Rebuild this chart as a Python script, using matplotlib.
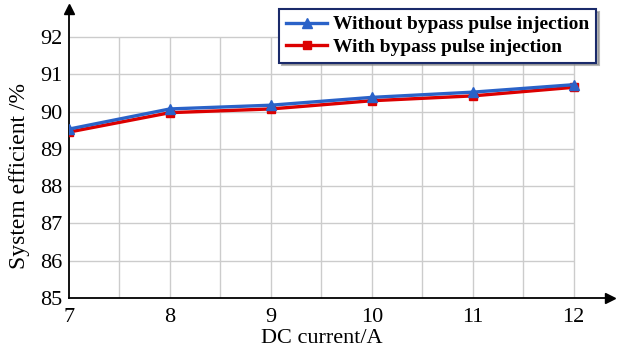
import matplotlib
matplotlib.use("Agg")
import matplotlib.pyplot as plt

plt.rcParams['font.family'] = ['Liberation Serif', 'DejaVu Serif']

current = [7, 8, 9, 10, 11, 12]
eff_without = [89.53, 90.07, 90.17, 90.38, 90.52, 90.72]
eff_with = [89.45, 89.97, 90.07, 90.29, 90.42, 90.65]
yticks = [85, 86, 87, 88, 89, 90, 91, 92]
xticks = [7, 8, 9, 10, 11, 12]

fig = plt.figure(figsize=(6.17, 3.49), dpi=100)
ax = fig.add_axes([69/617, 51/349, (610-69)/617, (298-9)/349])
ax.set_xlim(7, 12.36)
ax.set_ylim(85, 92.75)

gc = '#cccccc'
for x in [7.5, 8, 8.5, 9, 9.5, 10, 10.5, 11, 11.5, 12]:
    ax.vlines(x, 85, 92, color=gc, lw=1, zorder=1)
for y in yticks[1:]:
    ax.hlines(y, 7, 12, color=gc, lw=1, zorder=1)

for s in ['top', 'right']:
    ax.spines[s].set_visible(False)
for s in ['left', 'bottom']:
    ax.spines[s].set_linewidth(1.3)
ax.plot(1, 0, '>k', transform=ax.transAxes, clip_on=False, ms=7)
ax.plot(0, 1, '^k', transform=ax.transAxes, clip_on=False, ms=7)

ax.plot(current, eff_with, color='#dc0000', lw=2.4, marker='s', ms=6,
        label='With bypass pulse injection', zorder=3)
ax.plot(current, eff_without, color='#2a62c8', lw=2.4, marker='^', ms=7.5,
        label='Without bypass pulse injection', zorder=4)

ax.set_xticks(xticks)
ax.set_yticks(yticks)
ax.tick_params(axis='both', length=0, labelsize=16)
ax.tick_params(axis='x', pad=7.3)
ax.tick_params(axis='y', pad=5)
ax.set_xlabel('DC current/A', fontsize=16)
ax.xaxis.set_label_coords((9.5-7)/5.36, (1.0-51)/289)
ax.xaxis.label.set_va('bottom')
ax.set_ylabel('System efficient /%', fontsize=17)
ax.yaxis.set_label_coords((20-69)/541, (298-176)/289)
ax.yaxis.label.set_va('center')

h, l = ax.get_legend_handles_labels()
leg = ax.legend(h[::-1], l[::-1], loc='upper right', bbox_to_anchor=(0.974, 1.0),
                prop={'weight': 'bold', 'size': 14}, frameon=True, fancybox=False,
                shadow={'color': '#888888', 'alpha': 0.6}, handlelength=2.1,
                borderpad=0.35, labelspacing=0.25,
                handletextpad=0.3, borderaxespad=0)
leg.get_frame().set_edgecolor('#1a2a6a')
leg.get_frame().set_linewidth(1.5)

fig.savefig('out.png', dpi=100)
